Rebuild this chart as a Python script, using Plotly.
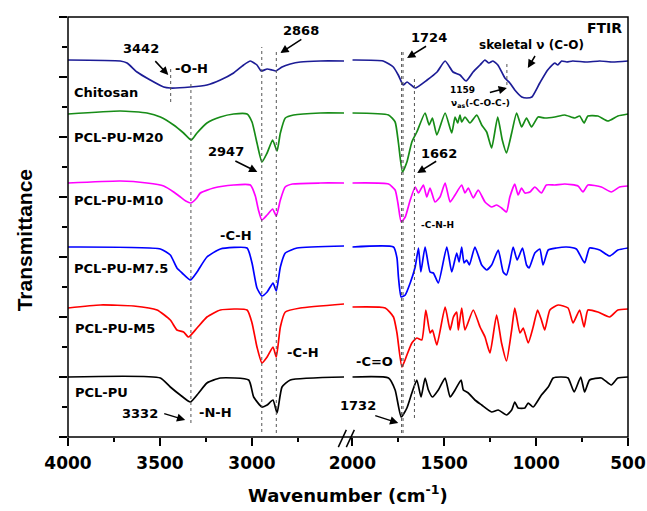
import plotly.graph_objects as go

# ---------------- data (transmittance, arbitrary offset units) ----------------
# high-wavenumber segment (4000-2500 cm-1) and low segment (2000-500 cm-1)
chitosan_wn_hi = [4000, 3716, 3679, 3625, 3553, 3480, 3444, 3335, 3245, 3172, 3100, 3046, 3009, 2973, 2950, 2918, 2891, 2870, 2837, 2792, 2737, 2629, 2500]
chitosan_t_hi = [377, 376, 374, 365, 357, 350, 349, 350, 352, 357, 364, 372, 376, 372, 366, 368, 367, 366, 370, 373, 375, 376, 376]
chitosan_wn_lo = [2000, 1832, 1777, 1750, 1723, 1702, 1658, 1593, 1539, 1495, 1452, 1414, 1381, 1343, 1305, 1278, 1257, 1235, 1208, 1170, 1143, 1116, 1078, 1051, 1023, 980, 937, 898, 882, 861, 833, 801, 725, 654, 584, 500]
chitosan_t_lo = [377, 376, 370, 362, 352, 355, 349, 357, 365, 376, 365, 362, 356, 365, 372, 377, 374, 376, 372, 359, 354, 347, 340, 339, 340, 354, 367, 374, 372, 376, 375, 376, 375, 376, 375, 376]

m20_wn_hi = [4000, 3716, 3571, 3498, 3426, 3372, 3330, 3299, 3245, 3172, 3100, 3027, 3000, 2973, 2946, 2918, 2888, 2864, 2846, 2819, 2774, 2629, 2500]
m20_t_hi = [323, 326, 324, 320, 312, 304, 297, 304, 314, 320, 323, 323, 315, 294, 275, 284, 297, 286, 304, 319, 322, 324, 324]
m20_wn_lo = [2000, 1803, 1767, 1749, 1727, 1703, 1676, 1649, 1604, 1582, 1564, 1540, 1495, 1459, 1441, 1427, 1414, 1405, 1387, 1360, 1323, 1296, 1269, 1242, 1209, 1184, 1161, 1133, 1106, 1079, 1052, 1025, 989, 953, 898, 844, 790, 763, 739, 718, 664, 609, 555, 500]
m20_t_lo = [324, 322, 315, 294, 265, 275, 295, 305, 324, 312, 319, 302, 324, 304, 320, 314, 322, 315, 320, 314, 322, 312, 305, 289, 320, 297, 284, 304, 324, 310, 319, 310, 320, 319, 320, 322, 319, 321, 314, 321, 321, 316, 321, 323]

m10_wn_hi = [4000, 3716, 3571, 3480, 3426, 3389, 3360, 3332, 3300, 3281, 3209, 3100, 3009, 2982, 2965, 2947, 2918, 2888, 2868, 2846, 2820, 2780, 2629, 2500]
m10_t_hi = [254, 256, 254, 251, 245, 240, 236, 234, 239, 244, 249, 252, 252, 241, 227, 217, 222, 228, 221, 237, 250, 253, 254, 254]
m10_wn_lo = [2000, 1803, 1767, 1752, 1734, 1712, 1685, 1658, 1640, 1613, 1595, 1577, 1550, 1523, 1495, 1468, 1441, 1405, 1387, 1369, 1342, 1315, 1278, 1242, 1215, 1188, 1161, 1143, 1116, 1098, 1079, 1061, 1034, 1007, 971, 944, 898, 844, 772, 745, 718, 645, 591, 546, 500]
m10_t_lo = [254, 253, 247, 234, 215, 220, 237, 250, 244, 252, 240, 249, 235, 240, 254, 235, 242, 252, 244, 249, 239, 247, 235, 230, 232, 229, 225, 240, 253, 242, 249, 244, 245, 250, 244, 252, 252, 253, 251, 245, 252, 250, 245, 250, 251]

m75_wn_hi = [4000, 3498, 3444, 3408, 3380, 3335, 3299, 3245, 3172, 3027, 3000, 2973, 2946, 2918, 2886, 2868, 2846, 2819, 2755, 2500]
m75_t_hi = [190, 188, 182, 169, 164, 157, 165, 180, 188, 189, 174, 149, 141, 145, 154, 146, 170, 184, 189, 191]
m75_wn_lo = [2000, 1776, 1757, 1749, 1734, 1712, 1685, 1658, 1640, 1627, 1604, 1577, 1559, 1532, 1486, 1459, 1432, 1419, 1405, 1392, 1378, 1363, 1333, 1296, 1269, 1242, 1206, 1179, 1161, 1143, 1125, 1103, 1074, 1052, 1038, 1007, 980, 962, 934, 889, 835, 781, 736, 709, 654, 600, 555, 500]
m75_t_lo = [190, 190, 179, 160, 140, 142, 154, 170, 189, 165, 190, 165, 164, 154, 190, 165, 184, 175, 190, 174, 177, 172, 190, 172, 167, 172, 187, 165, 162, 174, 190, 177, 189, 172, 169, 184, 188, 172, 187, 189, 190, 188, 174, 189, 187, 181, 187, 189]

m5_wn_hi = [4000, 3824, 3643, 3516, 3444, 3408, 3372, 3345, 3299, 3245, 3172, 3027, 3000, 2973, 2946, 2918, 2886, 2868, 2846, 2819, 2737, 2500]
m5_t_hi = [129, 132, 131, 127, 117, 107, 105, 100, 109, 120, 127, 127, 114, 90, 74, 80, 90, 80, 110, 125, 129, 133]
m5_wn_lo = [2000, 1821, 1776, 1757, 1730, 1703, 1676, 1649, 1622, 1600, 1577, 1564, 1540, 1495, 1468, 1450, 1432, 1423, 1405, 1387, 1342, 1305, 1278, 1251, 1215, 1188, 1161, 1133, 1116, 1088, 1070, 1043, 1016, 992, 971, 953, 925, 880, 826, 799, 763, 739, 718, 664, 600, 555, 500]
m5_t_lo = [130, 129, 120, 104, 70, 82, 94, 99, 97, 127, 104, 107, 92, 130, 107, 120, 125, 107, 129, 107, 127, 110, 100, 84, 122, 94, 76, 107, 129, 104, 109, 94, 110, 127, 117, 107, 127, 132, 129, 114, 127, 110, 127, 125, 120, 127, 128]

pclpu_wn_hi = [4000, 3498, 3444, 3390, 3335, 3290, 3245, 3172, 3018, 2991, 2946, 2918, 2886, 2864, 2837, 2792, 2500]
pclpu_t_hi = [60, 59, 50, 42, 35, 44, 54, 59, 57, 40, 30, 32, 37, 24, 50, 57, 60]
pclpu_wn_lo = [2000, 1803, 1767, 1734, 1703, 1676, 1649, 1626, 1604, 1586, 1564, 1532, 1495, 1468, 1441, 1408, 1396, 1369, 1333, 1296, 1242, 1206, 1161, 1133, 1116, 1098, 1061, 1043, 1016, 971, 934, 907, 862, 826, 793, 757, 736, 709, 645, 591, 555, 500]
pclpu_t_lo = [60, 59, 47, 20, 29, 44, 57, 40, 59, 47, 40, 47, 59, 40, 47, 57, 47, 44, 37, 32, 25, 27, 22, 27, 35, 29, 29, 34, 30, 42, 50, 59, 60, 59, 45, 60, 45, 57, 59, 52, 59, 60]

sample_names = ["Chitosan", "PCL-PU-M20", "PCL-PU-M10", "PCL-PU-M7.5", "PCL-PU-M5", "PCL-PU"]
sample_colors = ["#1c1c96", "#178c17", "#ff00ff", "#0000ff", "#ff0000", "#000000"]
series = [
    (chitosan_wn_hi, chitosan_t_hi, chitosan_wn_lo, chitosan_t_lo),
    (m20_wn_hi, m20_t_hi, m20_wn_lo, m20_t_lo),
    (m10_wn_hi, m10_t_hi, m10_wn_lo, m10_t_lo),
    (m75_wn_hi, m75_t_hi, m75_wn_lo, m75_t_lo),
    (m5_wn_hi, m5_t_hi, m5_wn_lo, m5_t_lo),
    (pclpu_wn_hi, pclpu_t_hi, pclpu_wn_lo, pclpu_t_lo),
]

hi_ticks = [4000, 3500, 3000]
hi_minor = [3750, 3250, 2750]
lo_ticks = [2000, 1500, 1000, 500]
lo_minor = [1750, 1250, 750]

FONT = "DejaVu Sans"

fig = go.Figure()
for name, col, (wh, th, wl, tl) in zip(sample_names, sample_colors, series):
    fig.add_trace(go.Scatter(x=wh, y=th, mode="lines", name=name, xaxis="x", yaxis="y",
                             line=dict(color=col, width=1.7, shape="spline", smoothing=0.5),
                             showlegend=False))
    fig.add_trace(go.Scatter(x=wl, y=tl, mode="lines", name=name, xaxis="x2", yaxis="y",
                             line=dict(color=col, width=1.7, shape="spline", smoothing=0.5),
                             showlegend=False))

tickfont = dict(family=FONT, size=17, color="black", weight="bold")
axis_common = dict(showgrid=False, zeroline=False, showline=False, ticks="outside",
                   ticklen=8, tickwidth=1.5, tickcolor="black", tickfont=tickfont,
                   ticklabelstandoff=3)

fig.update_layout(
    width=647, height=511,
    margin=dict(l=68, r=19, t=17, b=74, autoexpand=False),
    paper_bgcolor="white", plot_bgcolor="white",
    xaxis=dict(domain=[0, 0.4929], range=[4000, 2500], tickvals=hi_ticks,
               ticktext=[str(v) for v in hi_ticks], anchor="y",
               minor=dict(tickvals=hi_minor, ticks="outside", ticklen=4, tickwidth=1.5, tickcolor="black"),
               **axis_common),
    xaxis2=dict(domain=[0.5077, 1], range=[2000, 500], tickvals=lo_ticks,
                ticktext=[str(v) for v in lo_ticks], anchor="y",
                minor=dict(tickvals=lo_minor, ticks="outside", ticklen=4, tickwidth=1.5, tickcolor="black"),
                **axis_common),
    yaxis=dict(range=[0, 420], showgrid=False, zeroline=False, showline=False,
               showticklabels=False, ticks="outside", tickvals=list(range(0, 421, 60)),
               ticklen=8, tickwidth=1.5, tickcolor="black",
               minor=dict(tickvals=list(range(30, 420, 60)), ticks="outside", ticklen=5,
                          tickwidth=1.5, tickcolor="black")),
)

shapes = []
# frame
shapes.append(dict(type="rect", xref="paper", yref="paper", x0=0, x1=1, y0=0, y1=1,
                   line=dict(color="black", width=1.5)))
# axis break marks
for x0, x1 in [(0.4827, 0.4970), (0.4970, 0.5113)]:
    shapes.append(dict(type="line", xref="paper", yref="paper", x0=x0, x1=x1, y0=-0.024, y1=0.017,
                       line=dict(color="black", width=1.5)))

# dotted marker lines (wavenumber, ymin, ymax, axis)
dotted = [
    (3442, 335, 369, "x"), (3332, 14, 355, "x"), (2947, 5, 390, "x"), (2868, 4, 387, "x"),
    (1732, 4, 387, "x2"), (1724, 4, 387, "x2"), (1662, 19, 360, "x2"), (1159, 352, 374, "x2"),
]
for wn, y0, y1, ax in dotted:
    shapes.append(dict(type="line", xref=ax, yref="y", x0=wn, x1=wn, y0=y0, y1=y1,
                       line=dict(color="#555555", width=1, dash="dot")))
fig.update_layout(shapes=shapes)

ann = []
def txt(x, y, s, size=13, xref="x", xanchor="center", bold=True):
    ann.append(dict(x=x, y=y, xref=xref, yref="y", text=s, showarrow=False,
                    xanchor=xanchor, yanchor="middle",
                    font=dict(family=FONT, size=size, color="black",
                              weight="bold" if bold else "normal")))

# sample labels
txt(3977, 345, "Chitosan", xanchor="left")
txt(3977, 300, "PCL-PU-M20", xanchor="left")
txt(3977, 237, "PCL-PU-M10", xanchor="left")
txt(3977, 169, "PCL-PU-M7.5", xanchor="left")
txt(3972, 109, "PCL-PU-M5", xanchor="left")
txt(3972, 45, "PCL-PU", xanchor="left")

# peak labels
txt(3602, 389, "3442")
txt(3329, 369, "-O-H")
txt(2732, 407, "2868")
txt(3139, 286, "2947")
txt(3085, 202, "-C-H")
txt(2721, 85, "-C-H")
txt(3607, 24, "3332")
txt(3199, 25, "-N-H")
txt(627, 409, "FTIR", size=14, xref="x2")
txt(1582, 400, "1724", xref="x2")
txt(1023, 392, "skeletal ν (C-O)", size=12, xref="x2")
txt(1403, 347, "1159", size=9, xref="x2")
txt(1300, 334, "ν<sub>as</sub>(-C-O-C-)", size=9, xref="x2")
txt(1528, 284, "1662", xref="x2")
txt(1539, 212, "-C-N-H", size=9, xref="x2")
txt(1881, 76, "-C=O", xref="x2")
txt(1967, 32, "1732", xref="x2")

# arrows (head position, tail offset in px)
arrows = [
    (3455, 362, -15, -16, "x"), (2846, 384, 23, -15, "x"), (2971, 265, -24, -12, "x"),
    (3363, 17, -23, -7, "x"), (1702, 379, 21, -13, "x2"), (1045, 369, 9, -15, "x2"),
    (1159, 349, -19, 5, "x2"), (1647, 264, 21, -13, "x2"), (1750, 14, -25, -8, "x2"),
]
for x, y, axp, ayp, xr in arrows:
    ann.append(dict(x=x, y=y, xref=xr, yref="y", ax=axp, ay=ayp, text=" ", showarrow=True,
                    arrowhead=2, arrowsize=1.1, arrowwidth=1.5, arrowcolor="black",
                    font=dict(size=2)))

# axis titles
ann.append(dict(x=0.5, y=-0.136, xref="paper", yref="paper", showarrow=False,
                text="Wavenumber (cm<sup>-1</sup>)", xanchor="center", yanchor="middle",
                font=dict(family=FONT, size=18, color="black", weight="bold")))
ann.append(dict(x=-0.078, y=0.469, xref="paper", yref="paper", showarrow=False,
                text="Transmittance", textangle=-90, xanchor="center", yanchor="middle",
                font=dict(family="Liberation Sans", size=21, color="black", weight="bold")))

fig.update_layout(annotations=ann)
fig.write_html("out.html", config={"displayModeBar": False},
               post_script="document.body.style.margin='0';document.body.style.padding='0';")
